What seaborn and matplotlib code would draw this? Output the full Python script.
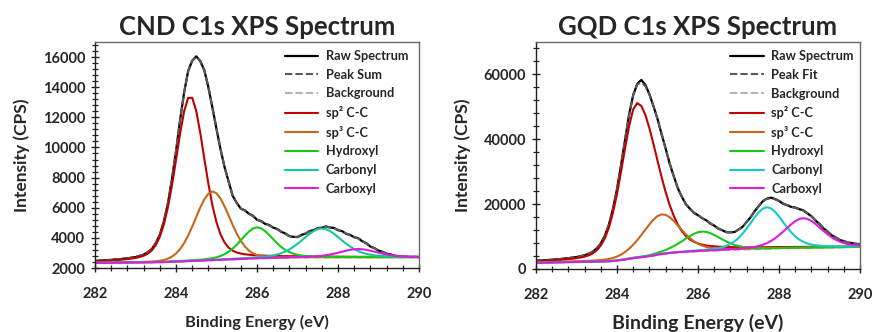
import numpy as np
import matplotlib
matplotlib.use("Agg")
import matplotlib.pyplot as plt
from matplotlib.ticker import MultipleLocator
import seaborn as sns

sns.set_style("ticks")
plt.rcParams["font.family"] = ["Lato", "DejaVu Sans"]
plt.rcParams["font.weight"] = "bold"
plt.rcParams["axes.labelweight"] = "bold"

# binding energy grid (eV)
energy = np.round(np.linspace(282.0, 290.0, 81), 1)

# ---------------- CND data (CPS) ----------------
cnd_raw = [2460, 2495, 2500, 2530, 2535, 2570, 2580, 2620, 2640, 2690,
           2725, 2810, 2880, 3045, 3250, 3650, 4200, 5090, 6280, 7890,
           9740, 11800, 13640, 15080, 15760, 16050, 15730, 15130, 13980, 12640,
           11220, 9880, 8680, 7740, 6780, 6330, 5940, 5830, 5600, 5470,
           5200, 5120, 4930, 4850, 4680, 4590, 4400, 4290, 4110, 4070,
           4050, 4200, 4280, 4450, 4510, 4650, 4670, 4760, 4690, 4660,
           4510, 4450, 4270, 4200, 4040, 3980, 3770, 3650, 3420, 3320,
           3150, 3080, 2940, 2900, 2800, 2790, 2745, 2750, 2725, 2740, 2725]
cnd_peak_sum = [2470, 2488, 2505, 2520, 2540, 2560, 2585, 2610, 2645, 2680,
                2730, 2795, 2885, 3030, 3260, 3630, 4210, 5070, 6290, 7870,
                9750, 11780, 13650, 15050, 15750, 16000, 15750, 15100, 14000, 12600,
                11250, 9850, 8700, 7700, 6800, 6300, 5960, 5800, 5620, 5440,
                5230, 5090, 4950, 4820, 4700, 4560, 4420, 4260, 4130, 4050,
                4070, 4170, 4300, 4420, 4530, 4620, 4690, 4730, 4700, 4630,
                4540, 4420, 4300, 4170, 4070, 3950, 3800, 3620, 3450, 3300,
                3170, 3060, 2960, 2880, 2820, 2780, 2755, 2740, 2730, 2730, 2730]
cnd_background = [2340, 2343, 2345, 2348, 2350, 2353, 2355, 2358, 2360, 2363,
                  2365, 2368, 2370, 2373, 2376, 2380, 2385, 2390, 2398, 2408,
                  2420, 2431, 2442, 2453, 2464, 2475, 2486, 2497, 2508, 2519,
                  2530, 2541, 2552, 2563, 2574, 2585, 2596, 2607, 2618, 2629,
                  2640, 2646, 2652, 2658, 2664, 2670, 2676, 2682, 2688, 2694,
                  2700, 2700, 2701, 2701, 2702, 2702, 2703, 2703, 2704, 2704,
                  2705, 2705, 2706, 2706, 2707, 2707, 2708, 2708, 2709, 2709,
                  2710, 2710, 2711, 2711, 2712, 2712, 2713, 2713, 2714, 2714, 2715]
# component intensities above background
cnd_sp2 = [104, 113, 124, 136, 149, 164, 183, 205, 230, 262,
           303, 360, 443, 574, 787, 1137, 1684, 2499, 3628, 5072,
           6747, 8472, 9952, 10832, 10832, 9952, 8472, 6747, 5072, 3628,
           2499, 1684, 1137, 787, 574, 443, 360, 303, 262, 230,
           205, 183, 164, 149, 136, 124, 113, 104, 96, 89,
           82, 77, 71, 67, 62, 58, 55, 52, 49, 46,
           44, 42, 39, 37, 35, 34, 32, 31, 30, 28,
           27, 26, 25, 24, 23, 22, 22, 21, 20, 19, 19]
cnd_sp3 = [13, 14, 15, 16, 18, 19, 21, 22, 24, 27,
           30, 33, 37, 44, 54, 70, 97, 143, 221, 348,
           542, 824, 1209, 1700, 2280, 2912, 3533, 4066, 4430, 4560,
           4430, 4066, 3533, 2912, 2280, 1700, 1209, 824, 542, 348,
           221, 143, 97, 70, 54, 44, 37, 33, 30, 27,
           24, 22, 21, 19, 18, 16, 15, 14, 13, 12,
           12, 11, 10, 10, 9, 9, 8, 8, 7, 7,
           7, 6, 6, 6, 6, 5, 5, 5, 5, 5, 5]
cnd_hydroxyl = [9, 9, 10, 10, 11, 11, 12, 13, 14, 14,
                15, 16, 17, 19, 20, 21, 23, 25, 28, 30,
                33, 36, 40, 45, 50, 58, 67, 81, 101, 132,
                180, 254, 363, 515, 715, 962, 1244, 1536, 1800, 1990,
                2060, 1990, 1800, 1536, 1244, 962, 715, 515, 363, 254,
                180, 132, 101, 81, 67, 58, 50, 45, 40, 36,
                33, 30, 28, 25, 23, 21, 20, 19, 17, 16,
                15, 14, 14, 13, 12, 11, 11, 10, 10, 9, 9]
cnd_carbonyl = [6, 6, 6, 7, 7, 7, 7, 8, 8, 8,
                9, 9, 10, 10, 11, 11, 12, 12, 13, 14,
                14, 15, 16, 17, 18, 19, 20, 22, 23, 25,
                27, 29, 31, 34, 37, 40, 44, 48, 55, 62,
                72, 86, 105, 133, 173, 230, 308, 413, 548, 713,
                908, 1124, 1349, 1566, 1750, 1875, 1920, 1875, 1750, 1566,
                1349, 1124, 908, 713, 548, 413, 308, 230, 173, 133,
                105, 86, 72, 62, 55, 48, 44, 40, 37, 34, 31]
cnd_carboxyl = [1, 1, 2, 2, 2, 2, 2, 2, 2, 2,
                2, 2, 2, 2, 2, 2, 2, 2, 2, 3,
                3, 3, 3, 3, 3, 3, 3, 3, 4, 4,
                4, 4, 4, 4, 5, 5, 6, 6, 7, 7,
                8, 8, 9, 10, 11, 12, 13, 14, 16, 19,
                22, 26, 33, 43, 57, 77, 105, 142, 188, 244,
                307, 375, 440, 497, 536, 550, 536, 497, 440, 375,
                307, 244, 188, 142, 105, 77, 57, 43, 33, 26, 22]

# ---------------- GQD data (CPS) ----------------
gqd_raw = [2600, 2630, 2680, 2790, 2860, 2990, 3060, 3230, 3340, 3530,
           3680, 3990, 4230, 4720, 5310, 6380, 7860, 10300, 13650, 18550,
           24600, 32050, 39900, 47700, 53650, 57100, 58300, 56800, 53900, 50200,
           46300, 41600, 37200, 32500, 28700, 24950, 22300, 19950, 18600, 17300,
           16600, 15700, 15050, 14050, 13400, 12450, 11950, 11350, 11300, 11400,
           12150, 13000, 14500, 15950, 17850, 19400, 20900, 21700, 22000, 21600,
           21000, 20150, 19700, 19150, 18950, 18450, 18100, 17150, 16300, 14950,
           13900, 12500, 11550, 10400, 9750, 8950, 8600, 8150, 8000, 7750, 7700]
gqd_peak_fit = [2540, 2615, 2696, 2776, 2873, 2974, 3083, 3209, 3353, 3509,
                3695, 3945, 4250, 4674, 5328, 6324, 7889, 10258, 13707, 18489,
                24650, 31992, 39953, 47617, 53720, 56952, 57537, 56372, 53806, 50329,
                46246, 41734, 37129, 32652, 28591, 25075, 22233, 20084, 18506, 17395,
                16537, 15753, 14974, 14145, 13302, 12502, 11868, 11437, 11286, 11486,
                12079, 13070, 14417, 16039, 17793, 19473, 20828, 21646, 21841, 21514,
                20908, 20230, 19650, 19210, 18870, 18524, 18004, 17246, 16234, 15047,
                13805, 12584, 11456, 10481, 9677, 9042, 8559, 8212, 7959, 7788, 7671]
gqd_background = [1900, 1925, 1950, 1975, 2000, 2025, 2050, 2075, 2100, 2125,
                  2150, 2170, 2190, 2210, 2230, 2250, 2280, 2310, 2350, 2430,
                  2550, 2720, 2900, 3100, 3300, 3450, 3600, 3750, 3900, 4120,
                  4350, 4530, 4700, 4850, 5000, 5080, 5150, 5230, 5300, 5380,
                  5450, 5500, 5550, 5600, 5650, 5700, 5750, 5800, 5850, 5900,
                  5950, 5990, 6030, 6070, 6110, 6150, 6190, 6230, 6270, 6310,
                  6350, 6380, 6410, 6440, 6470, 6500, 6520, 6540, 6560, 6580,
                  6600, 6620, 6640, 6660, 6680, 6700, 6720, 6740, 6760, 6780, 6800]
gqd_sp2 = [448, 487, 529, 572, 630, 692, 758, 840, 940, 1049,
           1183, 1383, 1636, 2003, 2581, 3496, 4951, 7174, 10422, 14892,
           20597, 27303, 34444, 41065, 45900, 47700, 46674, 43793, 39524, 34444,
           29083, 23850, 19061, 14892, 11419, 8658, 6530, 4951, 3802, 2991,
           2414, 2003, 1712, 1498, 1331, 1183, 1083, 992, 911, 840,
           778, 725, 673, 630, 587, 549, 515, 487, 458, 434,
           409, 386, 366, 348, 331, 315, 302, 290, 278, 267,
           257, 247, 238, 229, 221, 213, 205, 198, 191, 184, 176]
gqd_sp3 = [112, 119, 128, 137, 148, 157, 170, 185, 199, 216,
           237, 260, 285, 315, 362, 415, 486, 589, 739, 958,
           1279, 1728, 2349, 3171, 4209, 5459, 6876, 8381, 9849, 11116,
           11993, 12300, 11993, 11116, 9849, 8381, 6876, 5459, 4209, 3171,
           2349, 1728, 1279, 958, 739, 589, 486, 415, 362, 315,
           285, 260, 237, 216, 199, 185, 170, 157, 148, 137,
           128, 119, 112, 106, 100, 95, 90, 85, 80, 76,
           73, 69, 65, 63, 60, 58, 55, 53, 50, 48, 47]
gqd_hydroxyl = [32, 34, 36, 38, 39, 42, 44, 47, 49, 52,
                55, 59, 63, 67, 73, 77, 83, 91, 98, 106,
                117, 128, 140, 155, 178, 204, 239, 290, 364, 471,
                629, 850, 1156, 1560, 2070, 2685, 3382, 4122, 4844, 5467,
                5899, 6050, 5899, 5467, 4844, 4122, 3382, 2685, 2070, 1560,
                1156, 850, 629, 471, 364, 290, 239, 204, 178, 155,
                140, 128, 117, 106, 98, 91, 83, 77, 73, 67,
                63, 59, 55, 52, 49, 47, 44, 42, 39, 38, 36]
gqd_carbonyl = [29, 30, 32, 33, 34, 35, 37, 38, 40, 41,
                43, 45, 47, 49, 51, 54, 56, 59, 62, 65,
                68, 72, 77, 81, 86, 91, 97, 104, 112, 119,
                128, 137, 149, 160, 174, 188, 206, 227, 249, 276,
                308, 346, 397, 474, 577, 731, 974, 1333, 1859, 2602,
                3602, 4884, 6410, 8102, 9820, 11347, 12428, 12820, 12428, 11347,
                9820, 8102, 6410, 4884, 3602, 2602, 1859, 1333, 974, 731,
                577, 474, 397, 346, 308, 276, 249, 227, 206, 188, 174]
gqd_carboxyl = [19, 20, 21, 21, 22, 23, 24, 24, 25, 26,
                27, 28, 29, 30, 31, 32, 33, 35, 36, 38,
                39, 41, 43, 45, 47, 48, 51, 54, 57, 59,
                63, 67, 70, 74, 79, 83, 89, 95, 102, 110,
                117, 126, 137, 148, 161, 177, 193, 212, 234, 269,
                308, 361, 438, 550, 713, 952, 1286, 1748, 2359, 3131,
                4061, 5115, 6235, 7326, 8269, 8921, 9150, 8921, 8269, 7326,
                6235, 5115, 4061, 3131, 2359, 1748, 1286, 952, 713, 550, 438]

component_labels = ["sp\u00b2 C-C", "sp\u00b3 C-C", "Hydroxyl", "Carbonyl", "Carboxyl"]
cnd_colors = ["#C00000", "#C8671A", "#18C818", "#12C8A0", "#D81ED8"]
gqd_colors = ["#C00000", "#C8671A", "#18C818", "#18C8C8", "#D81ED8"]


def draw(ax, title, sum_label, raw, peak, bg, comps, colors, ylim, ymaj, ymin,
         xlab_size, leg_x):
    bg_arr = np.array(bg)
    sns.lineplot(x=energy, y=raw, ax=ax, color="black", lw=1.6,
                 label="Raw Spectrum", sort=False, estimator=None)
    sns.lineplot(x=energy, y=peak, ax=ax, color="#5a5a5a", lw=1.5,
                 linestyle=(0, (3.5, 1.5)), label=sum_label, sort=False, estimator=None)
    sns.lineplot(x=energy, y=bg, ax=ax, color="#b4b4b4", lw=1.5,
                 linestyle=(0, (3.5, 1.5)), label="Background", sort=False, estimator=None)
    for comp, lab, col in zip(comps, component_labels, colors):
        sns.lineplot(x=energy, y=bg_arr + np.array(comp), ax=ax, color=col, lw=1.5,
                     label=lab, sort=False, estimator=None)

    ax.set_xlim(282, 290)
    ax.set_ylim(*ylim)
    ax.xaxis.set_major_locator(MultipleLocator(2))
    ax.xaxis.set_minor_locator(MultipleLocator(0.4))
    ax.yaxis.set_major_locator(MultipleLocator(ymaj))
    ax.yaxis.set_minor_locator(MultipleLocator(ymin))
    ax.tick_params(which="major", direction="inout", length=6, width=1.0,
                   labelsize=10.5, color="#202020", pad=4)
    ax.tick_params(axis="x", which="major", pad=11)
    ax.tick_params(which="minor", direction="inout", length=4, width=0.9, color="#202020")
    for lbl in ax.get_xticklabels() + ax.get_yticklabels():
        lbl.set_fontweight("bold")
    for side in ["left", "bottom"]:
        ax.spines[side].set_color("#202020")
        ax.spines[side].set_linewidth(1.0)
    for side in ["top", "right"]:
        ax.spines[side].set_color("#6a6a6a")
        ax.spines[side].set_linewidth(1.0)

    ax.set_title(title, fontsize=18.5, fontweight="bold", pad=5)
    ax.set_ylabel("Intensity (CPS)", fontsize=12.5, fontweight="bold", va="center")
    ax.set_xlabel("Binding Energy (eV)", fontsize=xlab_size, fontweight="bold", va="center")
    ax.yaxis.set_label_coords(-0.225, 0.5)
    ax.xaxis.set_label_coords(0.5, -0.239)

    leg = ax.legend(loc="upper left", bbox_to_anchor=(leg_x, 0.975), frameon=False,
                    fontsize=9.2, handlelength=2.6, handletextpad=0.6,
                    labelspacing=0.52, borderpad=0.2, borderaxespad=0)
    for t in leg.get_texts():
        t.set_fontweight("bold")


fig = plt.figure(figsize=(8.72, 3.32), dpi=100)
ax1 = fig.add_axes([95 / 872, 64 / 332, 324 / 872, 226 / 332])
ax2 = fig.add_axes([536 / 872, 63 / 332, 324 / 872, 227 / 332])

draw(ax1, "CND C1s XPS Spectrum", "Peak Sum", cnd_raw, cnd_peak_sum, cnd_background,
     [cnd_sp2, cnd_sp3, cnd_hydroxyl, cnd_carbonyl, cnd_carboxyl], cnd_colors,
     (2000, 17000), 2000, 400, 11.8, 0.578)
draw(ax2, "GQD C1s XPS Spectrum", "Peak Fit", gqd_raw, gqd_peak_fit, gqd_background,
     [gqd_sp2, gqd_sp3, gqd_hydroxyl, gqd_carbonyl, gqd_carboxyl], gqd_colors,
     (0, 70000), 20000, 4000, 14, 0.592)

fig.savefig("out.png", dpi=100)
